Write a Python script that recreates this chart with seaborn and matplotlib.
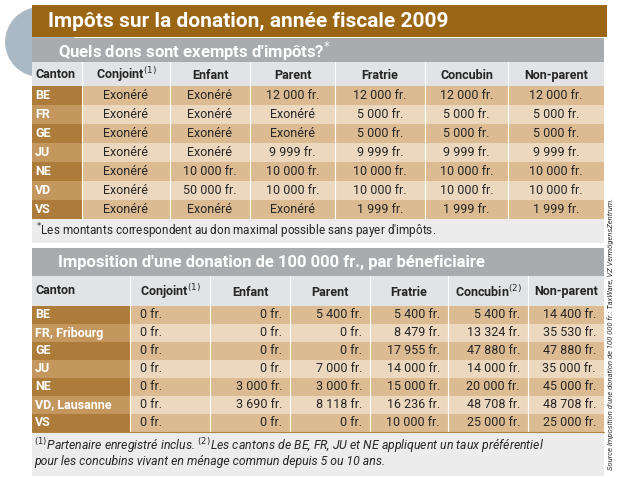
import matplotlib
matplotlib.use("Agg")
import matplotlib.pyplot as plt
import matplotlib.patches as mpatches
import seaborn as sns

sns.set_theme(style="white")
plt.rcParams['font.family'] = ['Roboto', 'DejaVu Sans']

# ---- data ----
title = "Impôts sur la donation, année fiscale 2009"
sub1 = "Quels dons sont exempts d'impôts?" + r"$^{*}$"
sub2 = "Imposition d'une donation de 100 000 fr., par béneficiaire"
cols = ["Canton", "Conjoint", "Enfant", "Parent", "Fratrie", "Concubin", "Non-parent"]
cantons1 = ["BE", "FR", "GE", "JU", "NE", "VD", "VS"]
exempt = [
    ["Exonéré", "Exonéré", "12 000 fr.", "12 000 fr.", "12 000 fr.", "12 000 fr."],
    ["Exonéré", "Exonéré", "Exonéré", "5 000 fr.", "5 000 fr.", "5 000 fr."],
    ["Exonéré", "Exonéré", "Exonéré", "5 000 fr.", "5 000 fr.", "5 000 fr."],
    ["Exonéré", "Exonéré", "9 999 fr.", "9 999 fr.", "9 999 fr.", "9 999 fr."],
    ["Exonéré", "10 000 fr.", "10 000 fr.", "10 000 fr.", "10 000 fr.", "10 000 fr."],
    ["Exonéré", "50 000 fr.", "10 000 fr.", "10 000 fr.", "10 000 fr.", "10 000 fr."],
    ["Exonéré", "Exonéré", "Exonéré", "1 999 fr.", "1 999 fr.", "1 999 fr."],
]
cantons2 = ["BE", "FR, Fribourg", "GE", "JU", "NE", "VD, Lausanne", "VS"]
taxes = [
    ["0 fr.", "0 fr.", "5 400 fr.", "5 400 fr.", "5 400 fr.", "14 400 fr."],
    ["0 fr.", "0 fr.", "0 fr.", "8 479 fr.", "13 324 fr.", "35 530 fr."],
    ["0 fr.", "0 fr.", "0 fr.", "17 955 fr.", "47 880 fr.", "47 880 fr."],
    ["0 fr.", "0 fr.", "7 000 fr.", "14 000 fr.", "14 000 fr.", "35 000 fr."],
    ["0 fr.", "3 000 fr.", "3 000 fr.", "15 000 fr.", "20 000 fr.", "45 000 fr."],
    ["0 fr.", "3 690 fr.", "8 118 fr.", "16 236 fr.", "48 708 fr.", "48 708 fr."],
    ["0 fr.", "0 fr.", "0 fr.", "10 000 fr.", "25 000 fr.", "25 000 fr."],
]
note1 = "Les montants correspondent au don maximal possible sans payer d'impôts."
note2a = "Partenaire enregistré inclus. "
note2b = "Les cantons de BE, FR, JU et NE appliquent un taux préférentiel"
note2c = "pour les concubins vivant en ménage commun depuis 5 ou 10 ans."
source = "Source Imposition d'une donation de 100 000 fr.: TaxWare, VZ VermögensZentrum."

# ---- colours ----
brown, grey_bar, head_bg, note_bg = "#9a6614", "#a9acae", "#e2e3e4", "#ececec"
row_dark, row_light = "#dcbb92", "#ecd8bf"
cant_dark, cant_light = "#ad7b3a", "#c4975e"

fig = plt.figure(figsize=(6.18, 4.78), dpi=100)
ax = fig.add_axes([0, 0, 1, 1])
ax.set_xlim(0, 618)
ax.set_ylim(478, 0)
ax.axis("off")

def rect(x0, y0, x1, y1, c, z=1):
    ax.add_patch(mpatches.Rectangle((x0, y0), x1 - x0, y1 - y0, fc=c, ec="none", zorder=z))

ax.add_patch(mpatches.Circle((40, 42), 36, fc="#aab9c3", ec="white", lw=1.5, zorder=0.5))
rect(32, 5, 607, 37, brown)
ax.text(48, 21, title, color="white", fontsize=15, fontweight="bold", va="center")

def table(y0, xs, cantons, data, sub, sup_cols, bar_h, head_h, row_h, left_conj):
    rect(32, y0, 604, y0 + bar_h, grey_bar)
    ax.text(58, y0 + bar_h / 2 + 1, sub, color="white", fontsize=12, fontweight="bold", va="center")
    yh = y0 + bar_h
    rect(32, yh, 604, yh + head_h, head_bg)
    for i, c in enumerate(cols):
        if i == 0:
            ax.text(xs[0] + 3, yh + head_h / 2, c, fontsize=9, fontweight="bold", va="center")
        else:
            lab = c + (r"$^{(%s)}$" % sup_cols[c] if c in sup_cols else "")
            ax.text((xs[i] + xs[i + 1]) / 2, yh + head_h / 2 + 1, lab, fontsize=9,
                    fontweight="bold", va="center", ha="center")
    yr = yh + head_h
    for r, (cant, vals) in enumerate(zip(cantons, data)):
        y = yr + r * row_h
        rect(xs[0], y, xs[1], y + row_h, cant_dark if r % 2 == 0 else cant_light)
        rect(xs[1], y, 604, y + row_h, row_dark if r % 2 == 0 else row_light)
        ax.text(xs[0] + 3, y + row_h / 2, cant, color="white", fontsize=9,
                fontweight="bold", va="center")
        for j, v in enumerate(vals):
            a, b = xs[j + 1], xs[j + 2]
            if left_conj is None:
                ax.text((a + b) / 2, y + row_h / 2, v, fontsize=9, va="center", ha="center")
            elif j == 0:
                ax.text(a + 10, y + row_h / 2, v, fontsize=9, va="center")
            else:
                ax.text(b - 8, y + row_h / 2, v, fontsize=9, va="center", ha="right")
    for x in xs[1:-1]:
        ax.plot([x, x], [yh, yr + 7 * row_h], color="white", lw=0.8, zorder=2)
    return yr + 7 * row_h

end1 = table(38, [32, 82, 170, 250, 335, 425, 508, 604], cantons1, exempt, sub1,
             {"Conjoint": "1"}, 24, 24, 19, None)
rect(32, end1, 604, end1 + 24, note_bg)
ax.text(36, end1 + 12, r"$^{*}$" + note1, fontsize=8.5, va="center")

end2 = table(248, [32, 130, 210, 290, 370, 448, 528, 604], cantons2, taxes, sub2,
             {"Conjoint": "1", "Concubin": "2"}, 28, 30, 18, True)
ax.plot([32, 604], [end2, end2], color="#b08440", lw=0.8)
rect(32, end2, 604, 476, note_bg)
ax.text(34, end2 + 14, r"$^{(1)}$" + note2a + r"$^{(2)}$" + note2b, fontsize=8.8,
        va="center", style="italic")
ax.text(34, end2 + 30, note2c, fontsize=8.8, va="center", style="italic")
ax.text(611, 470, source, fontsize=5.5, rotation=90, va="bottom", ha="center",
        style="italic", color="#333333")

fig.savefig("out.png", dpi=100)
